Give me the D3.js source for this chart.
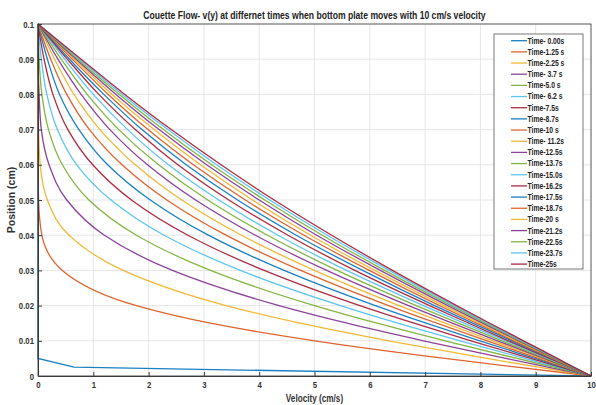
<!DOCTYPE html>
<html>
<head>
<meta charset="utf-8">
<script src="https://cdnjs.cloudflare.com/ajax/libs/d3/7.8.5/d3.min.js"></script>
<style>
    body { margin: 0; background: #ffffff; }
    text { font-family: "Liberation Sans", Arial, Helvetica, sans-serif; }
</style>
</head>
<body>
<div class="couette"></div>
<script>
var positions = [0, 0.0025, 0.005, 0.01, 0.015, 0.02, 0.03, 0.04, 0.05, 0.06, 0.07, 0.08, 0.09, 0.1];

// velocity (cm/s) of each curve at the positions above
var vel_t00 = [10, 0.65, 0, 0, 0, 0, 0, 0, 0, 0, 0, 0, 0, 0];
var vel_t01 = [10, 8.66, 7.36, 5.00, 3.12, 1.78, 0.44, 0.07, 0.01, 0, 0, 0, 0, 0];
var vel_t02 = [10, 9.05, 8.12, 6.34, 4.74, 3.40, 1.54, 0.56, 0.17, 0.04, 0.01, 0, 0, 0];
var vel_t03 = [10, 9.22, 8.46, 6.97, 5.59, 4.36, 2.43, 1.20, 0.52, 0.20, 0.06, 0.02, 0, 0];
var vel_t04 = [10, 9.33, 8.66, 7.36, 6.13, 5.00, 3.12, 1.78, 0.92, 0.44, 0.19, 0.07, 0.02, 0];
var vel_t05 = [10, 9.40, 8.80, 7.63, 6.51, 5.47, 3.66, 2.28, 1.32, 0.70, 0.35, 0.16, 0.06, 0];
var vel_t06 = [10, 9.45, 8.91, 7.83, 6.80, 5.82, 4.09, 2.71, 1.69, 0.99, 0.54, 0.27, 0.11, 0];
var vel_t07 = [10, 9.49, 8.99, 7.99, 7.02, 6.10, 4.45, 3.08, 2.03, 1.26, 0.74, 0.39, 0.17, 0];
var vel_t08 = [10, 9.52, 9.05, 8.12, 7.21, 6.34, 4.75, 3.40, 2.33, 1.52, 0.93, 0.52, 0.23, 0];
var vel_t09 = [10, 9.55, 9.11, 8.22, 7.36, 6.53, 5.00, 3.68, 2.60, 1.76, 1.12, 0.65, 0.30, 0];
var vel_t10 = [10, 9.57, 9.15, 8.31, 7.49, 6.70, 5.22, 3.93, 2.85, 1.98, 1.30, 0.78, 0.36, 0];
var vel_t11 = [10, 9.59, 9.19, 8.39, 7.60, 6.84, 5.41, 4.15, 3.07, 2.18, 1.46, 0.89, 0.42, 0];
var vel_t12 = [10, 9.61, 9.22, 8.46, 7.70, 6.97, 5.58, 4.34, 3.27, 2.36, 1.62, 1.00, 0.48, 0];
var vel_t13 = [10, 9.63, 9.25, 8.51, 7.79, 7.08, 5.73, 4.52, 3.45, 2.53, 1.76, 1.10, 0.53, 0];
var vel_t14 = [10, 9.64, 9.28, 8.57, 7.86, 7.17, 5.87, 4.67, 3.61, 2.68, 1.88, 1.19, 0.57, 0];
var vel_t15 = [10, 9.65, 9.30, 8.61, 7.93, 7.26, 5.99, 4.81, 3.75, 2.81, 1.99, 1.27, 0.62, 0];
var vel_t16 = [10, 9.66, 9.32, 8.65, 7.99, 7.34, 6.09, 4.93, 3.88, 2.94, 2.10, 1.34, 0.66, 0];
var vel_t17 = [10, 9.67, 9.34, 8.69, 8.04, 7.41, 6.19, 5.04, 4.00, 3.05, 2.19, 1.41, 0.69, 0];
var vel_t18 = [10, 9.68, 9.36, 8.72, 8.09, 7.47, 6.27, 5.14, 4.10, 3.14, 2.27, 1.47, 0.72, 0];
var vel_t19 = [10, 9.69, 9.37, 8.75, 8.13, 7.52, 6.35, 5.23, 4.19, 3.23, 2.35, 1.52, 0.75, 0];
var vel_t20 = [10, 9.69, 9.39, 8.78, 8.17, 7.57, 6.41, 5.31, 4.27, 3.31, 2.41, 1.57, 0.78, 0];

var timeLabels = ["Time- 0.00s", "Time-1.25 s", "Time-2.25 s", "Time- 3.7 s", "Time-5.0 s", "Time- 6.2 s",
    "Time-7.5s", "Time-8.7s", "Time-10 s", "Time- 11.2s", "Time-12.5s", "Time-13.7s", "Time-15.0s",
    "Time-16.2s", "Time-17.5s", "Time-18.7s", "Time-20 s", "Time-21.2s", "Time-22.5s", "Time-23.7s", "Time-25s"];

var xTicks = [0, 1, 2, 3, 4, 5, 6, 7, 8, 9, 10];
var yTicks = [0, 0.01, 0.02, 0.03, 0.04, 0.05, 0.06, 0.07, 0.08, 0.09, 0.1];
var yTickLabels = ["0", "0.01", "0.02", "0.03", "0.04", "0.05", "0.06", "0.07", "0.08", "0.09", "0.1"];

var lineColors = ["#0072BD", "#D95319", "#EDB120", "#7E2F8E", "#77AC30", "#4DBEEE", "#A2142F"];

var allVelocities = [vel_t00, vel_t01, vel_t02, vel_t03, vel_t04, vel_t05, vel_t06, vel_t07, vel_t08, vel_t09,
    vel_t10, vel_t11, vel_t12, vel_t13, vel_t14, vel_t15, vel_t16, vel_t17, vel_t18, vel_t19, vel_t20];

var width = 596, height = 405;
var margin = { left: 38, right: 5, top: 24, bottom: 29 };
var plotW = width - margin.left - margin.right;
var plotH = height - margin.top - margin.bottom;
var squeeze = 0.82; // the text in the picture is narrower than normal

var svg = d3.select(".couette")
    .append("svg")
    .attr("width", width)
    .attr("height", height);

svg.append("rect").attr("width", width).attr("height", height).style("fill", "#ffffff");

var g = svg.append("g")
    .attr("transform", "translate(" + margin.left + "," + margin.top + ")");

var x = d3.scaleLinear().domain([0, 10]).range([0, plotW]);
var y = d3.scaleLinear().domain([0, 0.1]).range([plotH, 0]);

// grid
g.selectAll(".grid_x")
    .data(xTicks)
    .enter()
    .append("line")
    .attr("class", "grid_x")
    .attr("x1", function (d) { return x(d) })
    .attr("x2", function (d) { return x(d) })
    .attr("y1", 0)
    .attr("y2", plotH)
    .attr("stroke", "#e6e6e6")
    .attr("stroke-width", 1);

g.selectAll(".grid_y")
    .data(yTicks)
    .enter()
    .append("line")
    .attr("class", "grid_y")
    .attr("x1", 0)
    .attr("x2", plotW)
    .attr("y1", function (d) { return y(d) })
    .attr("y2", function (d) { return y(d) })
    .attr("stroke", "#e6e6e6")
    .attr("stroke-width", 1);

// curves
var line = d3.line()
    .x(function (d) { return x(d.v) })
    .y(function (d) { return y(d.p) });

allVelocities.forEach(function (vels, i) {
    var pts = positions.map(function (p, k) { return { p: p, v: vels[k] }; }).reverse();
    g.append("path")
        .datum(pts)
        .attr("class", "curve")
        .attr("d", line.curve(i == 0 ? d3.curveLinear : d3.curveMonotoneY))
        .attr("fill", "none")
        .attr("stroke", lineColors[i % lineColors.length])
        .attr("stroke-opacity", 0.9)
        .attr("stroke-width", 1.3);
});

// box around the plot
g.append("rect")
    .attr("x", 0)
    .attr("y", 0)
    .attr("width", plotW)
    .attr("height", plotH)
    .attr("fill", "none")
    .attr("stroke", "#3a3a3a")
    .attr("stroke-width", 0.8);

// axes
var xAxis = g.append("g")
    .attr("class", "x_axis")
    .attr("transform", "translate(0," + plotH + ")")
    .call(d3.axisBottom(x).tickValues(xTicks).tickSizeInner(-4).tickSizeOuter(0).tickPadding(5));

var yAxis = g.append("g")
    .attr("class", "y_axis")
    .call(d3.axisLeft(y).tickValues(yTicks).tickSizeInner(-4).tickSizeOuter(0).tickPadding(4)
        .tickFormat(function (d, i) { return yTickLabels[i]; }));

g.selectAll(".x_axis path, .y_axis path, .x_axis line, .y_axis line")
    .attr("stroke", "#3a3a3a");

xAxis.selectAll("text")
    .style("font-size", "9.5px")
    .style("font-weight", "bold")
    .style("fill", "#333333")
    .attr("transform", "scale(" + squeeze + ",1)");

yAxis.selectAll("text")
    .style("font-size", "9.5px")
    .style("font-weight", "bold")
    .style("fill", "#333333")
    .attr("x", -4 / squeeze)
    .attr("transform", "scale(" + squeeze + ",1)");

// title and axis labels
svg.append("text")
    .attr("transform", "translate(" + (margin.left + plotW / 2) + ",19) scale(" + squeeze + ",1)")
    .style("text-anchor", "middle")
    .style("font-size", "10.5px")
    .style("font-weight", "bold")
    .style("fill", "#222222")
    .text("Couette Flow- v(y) at differnet times when bottom plate moves with 10 cm/s velocity");

svg.append("text")
    .attr("transform", "translate(" + (margin.left + plotW / 2) + ",401.5) scale(" + squeeze + ",1)")
    .style("text-anchor", "middle")
    .style("font-size", "10px")
    .style("font-weight", "bold")
    .style("fill", "#333333")
    .text("Velocity (cm/s)");

svg.append("text")
    .attr("transform", "translate(15," + (margin.top + plotH / 2) + ") rotate(-90)")
    .style("text-anchor", "middle")
    .style("font-size", "10.5px")
    .style("font-weight", "bold")
    .style("fill", "#333333")
    .text("Position (cm)");

// legend
var legend = svg.append("g")
    .attr("class", "legend")
    .attr("transform", "translate(494,34)");

legend.append("rect")
    .attr("width", 89)
    .attr("height", 235)
    .attr("fill", "#ffffff")
    .attr("stroke", "#555555")
    .attr("stroke-width", 0.8);

var rowH = 11.17;

legend.selectAll(".legend_line")
    .data(timeLabels)
    .enter()
    .append("line")
    .attr("class", "legend_line")
    .attr("x1", 17)
    .attr("x2", 33)
    .attr("y1", function (d, i) { return 6.7 + i * rowH })
    .attr("y2", function (d, i) { return 6.7 + i * rowH })
    .attr("stroke", function (d, i) { return lineColors[i % lineColors.length] })
    .attr("stroke-opacity", 0.9)
    .attr("stroke-width", 1.3);

legend.selectAll(".legend_text")
    .data(timeLabels)
    .enter()
    .append("text")
    .attr("class", "legend_text")
    .attr("transform", function (d, i) { return "translate(33.5," + (6.7 + i * rowH) + ") scale(" + squeeze + ",1)" })
    .attr("dy", "0.35em")
    .style("font-size", "8.3px")
    .style("font-weight", "bold")
    .style("fill", "#222222")
    .text(function (d) { return d });
</script>
</body>
</html>
